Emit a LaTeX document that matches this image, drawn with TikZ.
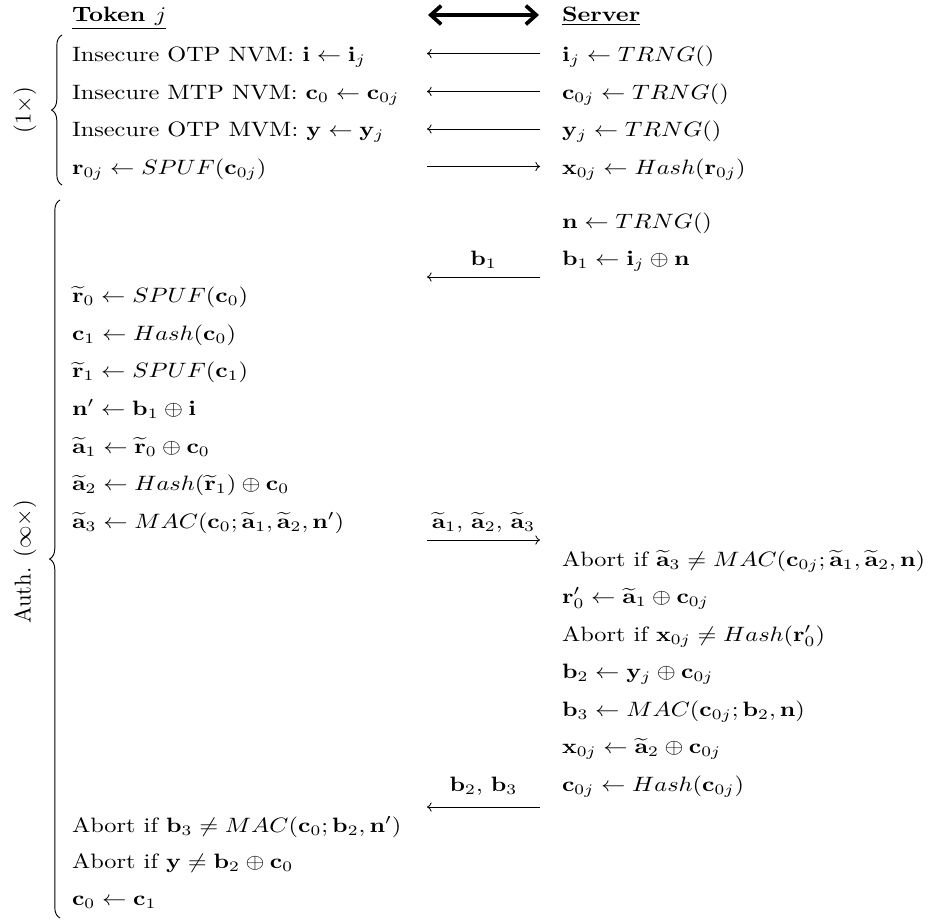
\documentclass[tikz,border=0pt]{standalone}
\usepackage{amsmath}
\usetikzlibrary{arrows.meta,decorations.pathreplacing}
\newcommand{\vb}[1]{\mathbf{#1}}
\newcommand{\wt}[1]{\widetilde{\mathbf{#1}}}
\tikzset{
  txt/.style={anchor=base west, inner sep=0pt, outer sep=0pt, xscale=1.17},
  lbl/.style={anchor=base, inner sep=0pt, outer sep=0pt, xscale=1.17},
  msg/.style={line width=0.4pt},
  tomsg/.style={msg, -{To[length=2.2pt,width=4.4pt]}},
  frommsg/.style={msg, {To[length=2.2pt,width=4.4pt]}-},
  bigarrow/.style={line width=1.8pt, {Straight Barb[length=5pt,width=9pt]}-{Straight Barb[length=5pt,width=9pt]}, line cap=round, line join=round},
  bracedeco/.style={decorate, decoration={brace, amplitude=5pt}, line width=0.45pt},
  sidelbl/.style={rotate=90, inner sep=0pt}
}
\begin{document}
\begin{tikzpicture}[x=0.4808pt, y=-0.4808pt]
\useasboundingbox (0,0) rectangle (929,919);

% header
\node[txt] (tok) at (72,21.5) {\underline{\textbf{Token $j$}}};
\node[txt] (srv) at (562,21.5) {\underline{\textbf{Server}}};
\coordinate (hL) at (428,15);
\coordinate (hR) at (539,15);
\draw[bigarrow] (hL) -- (hR);

% section 1
\node[txt] (l1) at (72,61.5) {Insecure OTP NVM: $\vb{i} \leftarrow \vb{i}_j$};
\node[txt] (r1) at (562,61.5) {$\vb{i}_j \leftarrow TRNG()$};
\node[txt] (l2) at (72,99) {Insecure MTP NVM: $\vb{c}_0 \leftarrow \vb{c}_{0j}$};
\node[txt] (r2) at (562,99) {$\vb{c}_{0j} \leftarrow TRNG()$};
\node[txt] (l3) at (72,136.5) {Insecure OTP MVM: $\vb{y} \leftarrow \vb{y}_j$};
\node[txt] (r3) at (562,136.5) {$\vb{y}_j \leftarrow TRNG()$};
\node[txt] (l4) at (72,174) {$\vb{r}_{0j} \leftarrow SPUF(\vb{c}_{0j})$};
\node[txt] (r4) at (562,174) {$\vb{x}_{0j} \leftarrow Hash(\vb{r}_{0j})$};

\coordinate (a1L) at (427,53.5);  \coordinate (a1R) at (540,53.5);
\coordinate (a2L) at (427,91.5);  \coordinate (a2R) at (540,91.5);
\coordinate (a3L) at (427,129);   \coordinate (a3R) at (540,129);
\coordinate (a4L) at (427,166.5); \coordinate (a4R) at (540,166.5);
\draw[frommsg] (a1L) -- (a1R);
\draw[frommsg] (a2L) -- (a2R);
\draw[frommsg] (a3L) -- (a3R);
\draw[tomsg] (a4L) -- (a4R);

\coordinate (b1T) at (62,35); \coordinate (b1B) at (62,185);
\draw[bracedeco] (b1B) -- (b1T);
\node[sidelbl] (once) at (25,110) {\scalebox{1.08}[1.1]{(1$\times$)}};

% section 2 -- server
\node[txt] (s1) at (562,228) {$\vb{n} \leftarrow TRNG()$};
\node[txt] (s2) at (562,265.5) {$\vb{b}_1 \leftarrow \vb{i}_j \oplus \vb{n}$};
\node[lbl] (m1) at (483.5,265) {$\vb{b}_1$};
\coordinate (m1L) at (427,277); \coordinate (m1R) at (540,277);
\draw[frommsg] (m1L) -- (m1R);

% token
\node[txt] (t1) at (72,302) {$\wt{r}_0 \leftarrow SPUF(\vb{c}_0)$};
\node[txt] (t2) at (72,340) {$\vb{c}_1 \leftarrow Hash(\vb{c}_0)$};
\node[txt] (t3) at (72,377.5) {$\wt{r}_1 \leftarrow SPUF(\vb{c}_1)$};
\node[txt] (t4) at (72,415) {$\vb{n}' \leftarrow \vb{b}_1 \oplus \vb{i}$};
\node[txt] (t5) at (72,453) {$\wt{a}_1 \leftarrow \wt{r}_0 \oplus \vb{c}_0$};
\node[txt] (t6) at (72,490.5) {$\wt{a}_2 \leftarrow Hash(\wt{r}_1) \oplus \vb{c}_0$};
\node[txt] (t7) at (72,528) {$\wt{a}_3 \leftarrow MAC(\vb{c}_0; \wt{a}_1, \wt{a}_2, \vb{n}')$};
\node[lbl] (m2) at (483.5,528) {$\wt{a}_1$, $\wt{a}_2$, $\wt{a}_3$};
\coordinate (m2L) at (427,540); \coordinate (m2R) at (540,540);
\draw[tomsg] (m2L) -- (m2R);

% server
\node[txt] (s3) at (562,566) {Abort if $\wt{a}_3 \neq MAC(\vb{c}_{0j}; \wt{a}_1, \wt{a}_2, \vb{n})$};
\node[txt] (s4) at (562,603.5) {$\vb{r}'_0 \leftarrow \wt{a}_1 \oplus \vb{c}_{0j}$};
\node[txt] (s5) at (562,641) {Abort if $\vb{x}_{0j} \neq Hash(\vb{r}'_0)$};
\node[txt] (s6) at (562,678.5) {$\vb{b}_2 \leftarrow \vb{y}_j \oplus \vb{c}_{0j}$};
\node[txt] (s7) at (562,716) {$\vb{b}_3 \leftarrow MAC(\vb{c}_{0j}; \vb{b}_2, \vb{n})$};
\node[txt] (s8) at (562,753.5) {$\vb{x}_{0j} \leftarrow \wt{a}_2 \oplus \vb{c}_{0j}$};
\node[txt] (s9) at (562,791) {$\vb{c}_{0j} \leftarrow Hash(\vb{c}_{0j})$};
\node[lbl] (m3) at (483.5,791) {$\vb{b}_2$, $\vb{b}_3$};
\coordinate (m3L) at (427,807); \coordinate (m3R) at (540,807);
\draw[frommsg] (m3L) -- (m3R);

% token end
\node[txt] (t8) at (72,832) {Abort if $\vb{b}_3 \neq MAC(\vb{c}_0; \vb{b}_2, \vb{n}')$};
\node[txt] (t9) at (72,868) {Abort if $\vb{y} \neq \vb{b}_2 \oplus \vb{c}_0$};
\node[txt] (t10) at (72,905) {$\vb{c}_0 \leftarrow \vb{c}_1$};

\coordinate (b2T) at (60,200); \coordinate (b2B) at (60,918);
\draw[bracedeco] (b2B) -- (b2T);
\node[sidelbl] (auth) at (25,562) {\scalebox{1.08}[1.1]{Auth. ($\infty\times$)}};
\end{tikzpicture}
\end{document}
